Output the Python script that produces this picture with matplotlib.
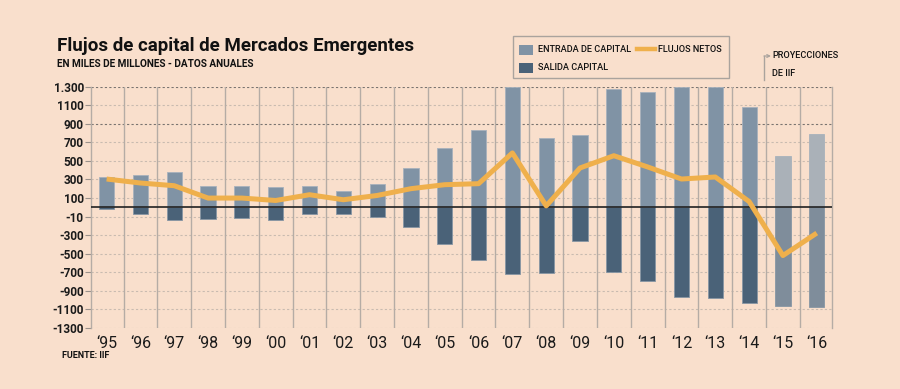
import matplotlib
matplotlib.use('Agg')
import matplotlib.pyplot as plt
from matplotlib import font_manager
from matplotlib.patches import Rectangle, FancyArrowPatch
from matplotlib.lines import Line2D

# datos (miles de millones USD)
years = ['‘95', '‘96', '‘97', '‘98', '‘99', '‘00', '‘01', '‘02', '‘03', '‘04', '‘05',
         '‘06', '‘07', '‘08', '‘09', '‘10', '‘11', '‘12', '‘13', '‘14', '‘15', '‘16']
entrada = [326, 343, 380, 232, 232, 221, 225, 178, 253, 419, 642,
           829, 1300, 746, 782, 1278, 1246, 1292, 1300, 1084, 556, 793]
salida = [-20, -70, -135, -124, -117, -135, -74, -74, -102, -210, -397,
          -566, -720, -710, -358, -700, -796, -965, -973, -1027, -1066, -1073]
netos = [304, 261, 232, 99, 99, 73, 135, 81, 127, 200, 243,
         254, 585, 15, 423, 555, 434, 304, 326, 62, -520, -278]
proyeccion = [False] * 20 + [True, True]

yticks = [1300, 1100, 900, 700, 500, 300, 100, -100, -300, -500, -700, -900, -1100, -1300]
ylabels = ['1.300', '1100', '900', '700', '500', '300', '100', '-10', '-300', '-500',
           '-700', '-900', '-1100', '-1300']

names = {f.name for f in font_manager.fontManager.ttflist}
def pick(*cands):
    for c in cands:
        if c in names:
            return c
    return 'DejaVu Sans'

narrow = pick('Liberation Sans Narrow', 'DejaVu Sans Condensed', 'Roboto', 'DejaVu Sans')
fondo = '#f9dfcc'
c_in, c_out = '#8093a5', '#4a6278'
c_in_p, c_out_p = '#aab1b8', '#7f8d9b'
naranja = '#efb04c'

fig = plt.figure(figsize=(9, 3.89), dpi=100, facecolor=fondo)
ax = fig.add_axes([0.1008, 0.1568, 0.8236, 0.6208], facecolor=fondo)

x = list(range(len(years)))
for i in x:
    ci = c_in_p if proyeccion[i] else c_in
    co = c_out_p if proyeccion[i] else c_out
    ax.bar(i, entrada[i], width=0.45, color=ci, edgecolor='#a8b2bc', linewidth=0.6, zorder=3)
    ax.bar(i, salida[i], width=0.45, color=co, edgecolor='#8796a4', linewidth=0.6, zorder=3)

ax.plot(x, netos, color=naranja, lw=3.6, solid_joinstyle='round', solid_capstyle='butt', zorder=5)
ax.axhline(0, color='#222222', lw=1.2, zorder=4)

# grilla
for v in yticks:
    if v in (1300, 900):
        ax.axhline(v, color='#7a7470', lw=0.8, ls=(0, (2, 2)), zorder=1)
    else:
        ax.axhline(v, color='#c9bbb0', lw=0.8, ls=(0, (2, 2)), zorder=1)
for i in x[:-1]:
    ax.axvline(i + 0.5, color='#b5aca5', lw=1.0, zorder=1)

ax.set_xlim(-0.47, 21.45)
ax.set_ylim(-1300, 1300)
ax.set_yticks(yticks)
ax.set_yticklabels(ylabels, fontsize=8.5, fontweight='bold', family=narrow, color='#1a1a1a')
ax.set_xticks(x)
ax.set_xticklabels(years, fontsize=11.5, color='#1a1a1a', family=narrow)
ax.tick_params(axis='y', length=4, width=0.8, color='#9a918a', pad=1)
ax.tick_params(axis='x', length=0, pad=6)
for s in ['top', 'bottom']:
    ax.spines[s].set_visible(False)
ax.spines['left'].set_color('#b5aca5')
ax.spines['left'].set_linewidth(1.0)
ax.spines['right'].set_color('#b5aca5')
ax.spines['right'].set_linewidth(1.0)

# textos
fig.text(57 / 900, 1 - 46 / 389, 'Flujos de capital de Mercados Emergentes', fontsize=13.5,
         fontweight='bold', family=narrow, color='#111111', va='center')
fig.text(57 / 900, 1 - 64 / 389, 'EN MILES DE MILLONES - DATOS ANUALES', fontsize=7.2,
         fontweight='bold', family=narrow, color='#111111', va='center')
fig.text(62 / 900, 1 - 356 / 389, 'FUENTE: IIF', fontsize=6.5, fontweight='bold',
         family=narrow, color='#111111', va='center')

# leyenda
fig.patches.append(Rectangle((513 / 900, 1 - 78 / 389), 216 / 900, 42 / 389, transform=fig.transFigure,
                             facecolor='none', edgecolor='#aaa39d', lw=1.0))
fig.patches.append(Rectangle((519 / 900, 1 - 55 / 389), 14 / 900, 10 / 389, transform=fig.transFigure,
                             facecolor=c_in, edgecolor='none'))
fig.patches.append(Rectangle((519 / 900, 1 - 73 / 389), 14 / 900, 10 / 389, transform=fig.transFigure,
                             facecolor=c_out, edgecolor='none'))
fig.lines.append(Line2D([637 / 900, 655 / 900], [1 - 49 / 389] * 2, transform=fig.transFigure,
                        color=naranja, lw=3.2))
fig.text(538 / 900, 1 - 50 / 389, 'ENTRADA DE CAPITAL', fontsize=6.6, family=narrow,
         fontweight='medium', color='#111111', va='center')
fig.text(538 / 900, 1 - 68 / 389, 'SALIDA CAPITAL', fontsize=6.6, family=narrow,
         fontweight='medium', color='#111111', va='center')
fig.text(658 / 900, 1 - 49 / 389, 'FLUJOS NETOS', fontsize=6.6, family=narrow,
         fontweight='medium', color='#111111', va='center')

# nota proyecciones
fig.lines.append(Line2D([764 / 900, 764 / 900], [1 - 80 / 389, 1 - 56 / 389],
                        transform=fig.transFigure, color='#aaa39d', lw=1.0))
fig.patches.append(FancyArrowPatch((764 / 900, 1 - 56 / 389), (771 / 900, 1 - 56 / 389),
                                   transform=fig.transFigure, arrowstyle='->', mutation_scale=5,
                                   color='#aaa39d', lw=0.9, shrinkA=0, shrinkB=0))
fig.text(772 / 900, 1 - 56 / 389, 'PROYECCIONES', fontsize=6.6, family=narrow,
         fontweight='medium', color='#111111', va='center')
fig.text(772 / 900, 1 - 73 / 389, 'DE IIF', fontsize=6.6, family=narrow,
         fontweight='medium', color='#111111', va='center')

fig.savefig('out.png', dpi=100, facecolor=fondo)
